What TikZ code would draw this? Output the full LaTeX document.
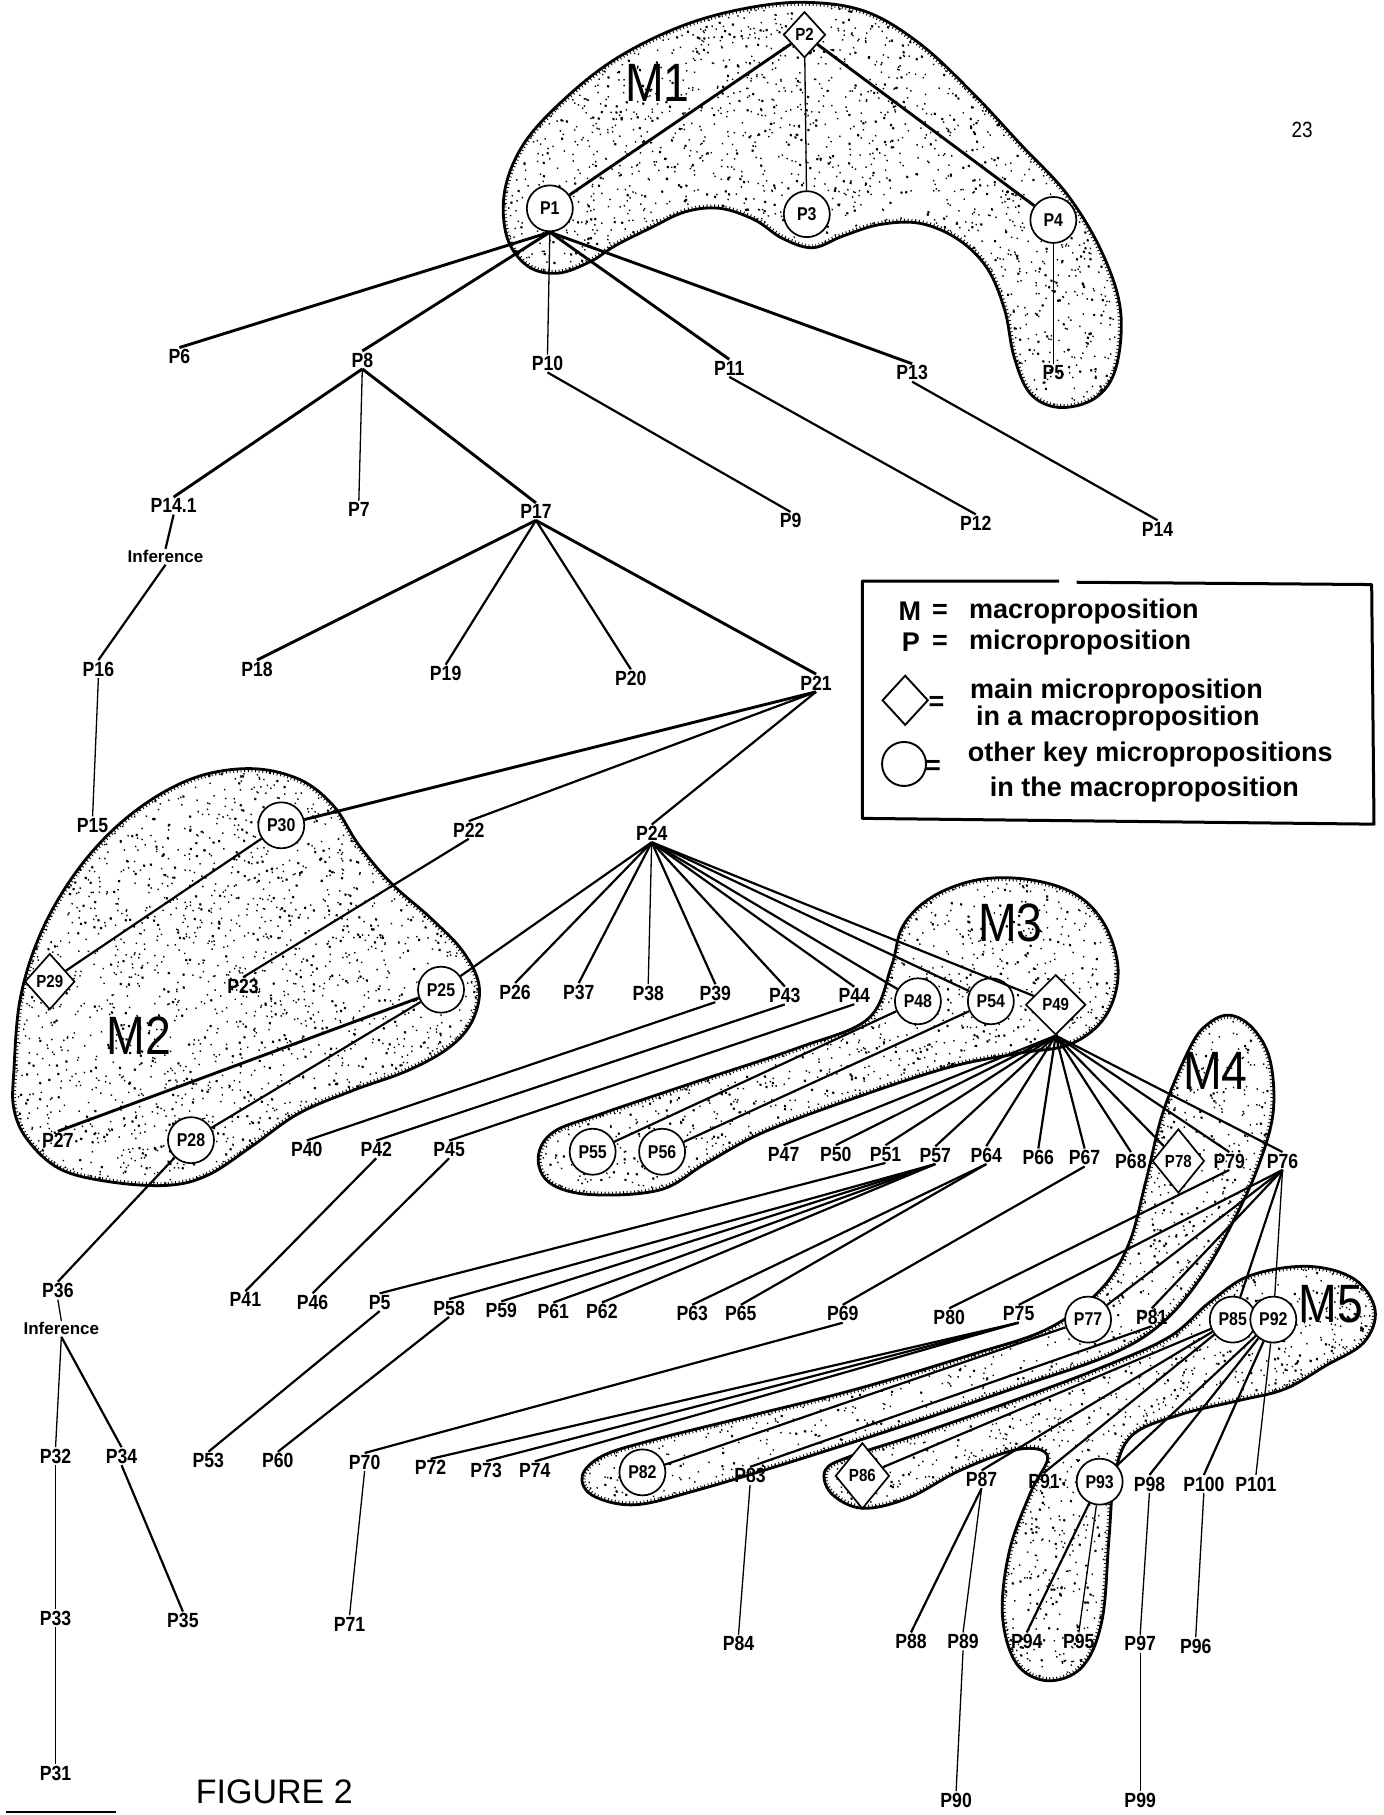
\documentclass[tikz,border=0pt]{standalone}
\usepackage{fontspec}
\setmainfont{Liberation Sans}
\newfontfamily\condfont{Liberation Sans}[FakeStretch=0.86]
\usetikzlibrary{shapes.geometric}
\tikzset{
  lbl/.style={font=\condfont\bfseries\fontsize{20.5}{20.5}\selectfont, inner sep=1.5pt},
  keyc/.style={circle, draw, line width=1.7pt, fill=white, minimum size=46pt, inner sep=0pt, font=\condfont\bfseries\fontsize{18.5}{18.5}\selectfont},
  keyd/.style={diamond, draw, line width=1.7pt, fill=white, inner sep=0pt, font=\condfont\bfseries\fontsize{17.5}{17.5}\selectfont},
  con/.style={line width=2.2pt},
  thk/.style={line width=2.9pt},
  thn/.style={line width=1.3pt},
  blobline/.style={line width=2.8pt, line join=round},
  mlab/.style={font=\condfont\fontsize{54}{54}\selectfont, inner sep=0pt},
  lgd/.style={font=\bfseries\fontsize{27}{27}\selectfont, inner sep=0pt, anchor=west},
  lgs/.style={font=\bfseries\fontsize{27}{27}\selectfont, inner sep=0pt},
}
\newcommand\stipple[6]{%
  \begin{scope}
    \clip #1;
    \draw[line width=1.5pt, line cap=round] foreach \k in {1,...,#6} { ({#2+rnd*#4},{#3+rnd*#5}) -- ++(0.3,0.4) };
    \pgfmathtruncatemacro\nnn{#6/3}
    \draw[line width=2.4pt, line cap=round] foreach \k in {1,...,\nnn} { ({#2+rnd*#4},{#3+rnd*#5}) -- ++(0.3,0.5) };
    \draw[line width=7pt, dash pattern=on 0.9pt off 2.8pt] #1;
  \end{scope}
  \draw[blobline] #1;
}
\def\pathMone{plot[smooth cycle, tension=0.6] coordinates {(438,205) (436,165) (452,125) (485,88) (530,52) (585,24) (640,8) (695,2) (748,10) (795,38) (840,80) (882,125) (922,168) (952,218) (968,268) (964,318) (946,344) (915,352) (890,340) (876,308) (868,268) (853,232) (828,207) (795,193) (760,194) (728,204) (702,214) (676,206) (652,190) (622,180) (592,183) (562,197) (532,212) (510,226) (482,236) (456,230)}}
\def\pathMtwo{plot[smooth cycle, tension=0.6] coordinates {(12,925) (18,860) (38,800) (72,745) (115,702) (165,673) (215,664) (258,673) (288,696) (310,730) (338,763) (372,793) (400,822) (414,852) (408,882) (388,905) (352,925) (305,942) (258,962) (218,990) (180,1015) (145,1024) (95,1021) (52,1010) (24,985) (12,958)}}
\def\pathMthree{plot[smooth cycle, tension=0.6] coordinates {(770,835) (780,800) (805,775) (845,760) (890,760) (930,773) (955,800) (966,840) (955,878) (925,902) (880,910) (820,922) (740,948) (660,978) (610,1005) (570,1028) (510,1032) (475,1022) (465,1000) (478,978) (520,962) (600,935) (690,905) (750,880)}}
\def\pathMfour{plot[smooth cycle, tension=0.6] coordinates {(1028,905) (1043,885) (1062,877) (1082,888) (1097,915) (1100,960) (1088,1005) (1068,1050) (1040,1100) (1005,1142) (960,1170) (880,1198) (780,1232) (680,1264) (600,1288) (548,1300) (512,1292) (503,1275) (520,1258) (560,1245) (640,1225) (740,1200) (840,1170) (905,1148) (950,1115) (975,1075) (990,1020) (1005,960)}}
\def\pathMfive{plot[smooth cycle, tension=0.6] coordinates {(1045,1125) (1080,1102) (1130,1094) (1170,1105) (1188,1132) (1178,1160) (1145,1180) (1110,1200) (1070,1210) (1020,1222) (978,1240) (963,1275) (958,1330) (952,1400) (935,1440) (905,1452) (878,1437) (866,1395) (872,1340) (890,1290) (905,1258) (880,1252) (830,1270) (785,1294) (745,1303) (718,1290) (713,1270) (735,1258) (790,1240) (870,1212) (950,1182) (1010,1155)}}
\begin{document}
\begin{tikzpicture}[x=1.1573pt, y=-1.1573pt]
\useasboundingbox (0,0) rectangle (1195,1568);
\fill[white] (0,0) rectangle (1195,1568);
\pgfmathsetseed{2718}
% macroproposition regions
\stipple{\pathMone}{430}{0}{540}{355}{2400}
\stipple{\pathMtwo}{5}{660}{415}{365}{2000}
\stipple{\pathMthree}{460}{755}{510}{280}{1800}
\stipple{\pathMfour}{500}{875}{600}{430}{2600}
\stipple{\pathMfive}{710}{1090}{480}{365}{2200}

% M labels
\node[mlab] (m1) at (568,72) {M1};
\node[mlab] (m2) at (120,895) {M2};
\node[mlab] (m3) at (873,797) {M3};
\node[mlab] (m4) at (1050,925) {M4};
\node[mlab] (m5) at (1150,1127) {M5};

% key nodes
\node[keyd, minimum width=42pt, minimum height=46pt] (p2) at (695,30) {P2};
\node[keyc] (p1) at (475,180) {P1};
\node[keyc] (p3) at (697,185) {P3};
\node[keyc] (p4) at (910,190) {P4};
\node[lbl] (p5a) at (910,322) {P5};
\node[keyc] (p30) at (243,713) {P30};
\node[keyd, minimum width=50pt, minimum height=56pt] (p29) at (43,848) {P29};
\node[keyc] (p25) at (381,855) {P25};
\node[keyc] (p28) at (165,985) {P28};
\node[keyc] (p48) at (793,865) {P48};
\node[keyc] (p54) at (856,865) {P54};
\node[keyd, minimum width=60pt, minimum height=60pt] (p49) at (912,868) {P49};
\node[keyc] (p55) at (512,995) {P55};
\node[keyc] (p56) at (572,995) {P56};
\node[keyd, minimum width=52pt, minimum height=64pt] (p78) at (1018,1003) {P78};
\node[keyc] (p77) at (940,1140) {P77};
\node[keyc] (p85) at (1065,1140) {P85};
\node[keyc] (p92) at (1100,1140) {P92};
\node[keyc] (p82) at (555,1272) {P82};
\node[keyd, minimum width=54pt, minimum height=66pt] (p86) at (745,1275) {P86};
\node[keyc] (p93) at (950,1280) {P93};

% plain labels
\node[lbl] (p6) at (155,308) {P6};
\node[lbl] (p8) at (313,311) {P8};
\node[lbl] (p10) at (473,314) {P10};
\node[lbl] (p11) at (630,318) {P11};
\node[lbl] (p13) at (788,322) {P13};
\node[lbl] (p141) at (150,437) {P14.1};
\node[lbl] (p7) at (310,440) {P7};
\node[lbl] (p17) at (463,442) {P17};
\node[lbl] (p9) at (683,450) {P9};
\node[lbl] (p12) at (843,452) {P12};
\node[lbl] (p14) at (1000,457) {P14};
\node[lbl, font=\bfseries\fontsize{17}{17}\selectfont] (inf1) at (143,481) {Inference};
\node[lbl] (p16) at (85,578) {P16};
\node[lbl] (p18) at (222,578) {P18};
\node[lbl] (p19) at (385,582) {P19};
\node[lbl] (p20) at (545,586) {P20};
\node[lbl] (p21) at (705,590) {P21};
\node[lbl] (p15) at (80,713) {P15};
\node[lbl] (p22) at (405,717) {P22};
\node[lbl] (p24) at (563,720) {P24};
\node[lbl] (p23) at (210,852) {P23};
\node[lbl] (p26) at (445,857) {P26};
\node[lbl] (p37) at (500,857) {P37};
\node[lbl] (p38) at (560,858) {P38};
\node[lbl] (p39) at (618,858) {P39};
\node[lbl] (p43) at (678,860) {P43};
\node[lbl] (p44) at (738,860) {P44};
\node[lbl] (p27) at (50,985) {P27};
\node[lbl] (p40) at (265,993) {P40};
\node[lbl] (p42) at (325,993) {P42};
\node[lbl] (p45) at (388,993) {P45};
\node[lbl] (p47) at (677,997) {P47};
\node[lbl] (p50) at (722,997) {P50};
\node[lbl] (p51) at (765,997) {P51};
\node[lbl] (p57) at (808,998) {P57};
\node[lbl] (p64) at (852,998) {P64};
\node[lbl] (p66) at (897,1000) {P66};
\node[lbl] (p67) at (937,1000) {P67};
\node[lbl] (p68) at (977,1003) {P68};
\node[lbl] (p79) at (1062,1003) {P79};
\node[lbl] (p76) at (1108,1003) {P76};
\node[lbl] (p36) at (50,1115) {P36};
\node[lbl, font=\bfseries\fontsize{17}{17}\selectfont] (inf2) at (53,1148) {Inference};
\node[lbl] (p41) at (212,1123) {P41};
\node[lbl] (p46) at (270,1125) {P46};
\node[lbl] (p5b) at (328,1125) {P5};
\node[lbl] (p58) at (388,1130) {P58};
\node[lbl] (p59) at (433,1132) {P59};
\node[lbl] (p61) at (478,1133) {P61};
\node[lbl] (p62) at (520,1133) {P62};
\node[lbl] (p63) at (598,1135) {P63};
\node[lbl] (p65) at (640,1135) {P65};
\node[lbl] (p69) at (728,1135) {P69};
\node[lbl] (p80) at (820,1138) {P80};
\node[lbl] (p75) at (880,1135) {P75};
\node[lbl] (p81) at (995,1138) {P81};
\node[lbl] (p32) at (48,1258) {P32};
\node[lbl] (p34) at (105,1258) {P34};
\node[lbl] (p53) at (180,1262) {P53};
\node[lbl] (p60) at (240,1262) {P60};
\node[lbl] (p70) at (315,1263) {P70};
\node[lbl] (p72) at (372,1268) {P72};
\node[lbl] (p73) at (420,1270) {P73};
\node[lbl] (p74) at (462,1270) {P74};
\node[lbl] (p83) at (648,1275) {P83};
\node[lbl] (p87) at (848,1278) {P87};
\node[lbl] (p91) at (902,1280) {P91};
\node[lbl] (p98) at (993,1282) {P98};
\node[lbl] (p100) at (1040,1282) {P100};
\node[lbl] (p101) at (1085,1282) {P101};
\node[lbl] (p33) at (48,1398) {P33};
\node[lbl] (p35) at (158,1400) {P35};
\node[lbl] (p71) at (302,1403) {P71};
\node[lbl] (p84) at (638,1420) {P84};
\node[lbl] (p88) at (787,1418) {P88};
\node[lbl] (p89) at (832,1418) {P89};
\node[lbl] (p94) at (887,1418) {P94};
\node[lbl] (p95) at (932,1418) {P95};
\node[lbl] (p97) at (985,1420) {P97};
\node[lbl] (p96) at (1033,1422) {P96};
\node[lbl] (p31) at (48,1532) {P31};
\node[lbl] (p90) at (826,1555) {P90};
\node[lbl] (p99) at (985,1555) {P99};

% connectors: M1
\draw[thk] (p2) -- (p1);
\draw[thn] (p2) -- (p3);
\draw[thk] (p2) -- (p4);
\draw[thn] (p4) -- (p5a);
\draw[thk] (p1.south) -- (p6.north);
\draw[thk] (p1.south) -- (p8.north);
\draw[thn] (p1.south) -- (p10.north);
\draw[thk] (p1.south) -- (p11.north);
\draw[thk] (p1.south) -- (p13.north);
\draw[thk] (p8.south) -- (p141.north);
\draw[thn] (p8.south) -- (p7.north);
\draw[thk] (p8.south) -- (p17.north);
\draw[con] (p10.south) -- (p9.north);
\draw[con] (p11.south) -- (p12.north);
\draw[con] (p13.south) -- (p14.north);
\draw[con] (p141.south) -- (inf1.north);
\draw[con] (inf1.south) -- (p16.north);
\draw[thn] (p16.south) -- (p15.north);
\draw[thk] (p17.south) -- (p18.north);
\draw[con] (p17.south) -- (p19.north);
\draw[con] (p17.south) -- (p20.north);
\draw[thk] (p17.south) -- (p21.north);
\draw[thk] (p21.south) -- (p30);
\draw[con] (p21.south) -- (p22.north);
\draw[con] (p21.south) -- (p24.north);
% M2
\draw[con] (p30) -- (p29);
\draw[con] (p22.south) -- (p23.north);
\draw[con] (p24.south) -- (p25);
\draw[thk] (p25) -- (p27.north);
\draw[con] (p25) -- (p28);
\draw[con] (p28) -- (p36.north);
\draw[thn] (p36.south) -- (inf2.north);
\draw[thn] (inf2.south) -- (p32.north);
\draw[con] (inf2.south) -- (p34.north);
\draw[thn] (p32.south) -- (p33.north);
\draw[thn] (p33.south) -- (p31.north);
\draw[con] (p34.south) -- (p35.north);
% P24 fan
\draw[con] (p24.south) -- (p26.north);
\draw[con] (p24.south) -- (p37.north);
\draw[thn] (p24.south) -- (p38.north);
\draw[con] (p24.south) -- (p39.north);
\draw[con] (p24.south) -- (p43.north);
\draw[con] (p24.south) -- (p44.north);
\draw[con] (p24.south) -- (p48);
\draw[con] (p24.south) -- (p54);
\draw[con] (p24.south) -- (p49);
\draw[con] (p39.south) -- (p40.north);
\draw[con] (p43.south) -- (p42.north);
\draw[con] (p44.south) -- (p45.north);
\draw[con] (p42.south) -- (p41.north);
\draw[con] (p45.south) -- (p46.north);
% M3
\draw[con] (p48) -- (p55);
\draw[con] (p54) -- (p56);
\foreach \t in {p47,p50,p51,p57,p64,p66,p67,p68,p79,p76}
  \draw[con] (p49.south) -- (\t.north);
\draw[con] (p49.south) -- (p78);
\draw[con] (p51.south) -- (p5b.north);
\foreach \t in {p58,p59,p61,p62}
  \draw[con] (p57.south) -- (\t.north);
\draw[con] (p64.south) -- (p63.north);
\draw[con] (p64.south) -- (p65.north);
\draw[con] (p67.south) -- (p69.north);
\draw[con] (p5b.south) -- (p53.north);
\draw[con] (p58.south) -- (p60.north);
\draw[con] (p69.south) -- (p70.north);
\draw[thn] (p70.south) -- (p71.north);
% M4
\draw[con] (p79.south) -- (p80.north);
\draw[con] (p76.south) -- (p75.north);
\draw[con] (p76.south) -- (p77);
\draw[con] (p76.south) -- (p81.north);
\draw[con] (p76.south) -- (p85);
\draw[thn] (p76.south) -- (p92);
\foreach \t in {p72,p73,p74}
  \draw[con] (p75.south) -- (\t.north);
\draw[con] (p77) -- (p82);
\draw[con] (p81.south) -- (p83.north);
\draw[thn] (p83.south) -- (p84.north);
% M5
\draw[con] (p85) -- (p86);
\draw[con] (p85) -- (p87.north);
\draw[con] (p85) -- (p91.north);
\draw[con] (p92) -- (p93);
\draw[con] (p92) -- (p98.north);
\draw[con] (p92) -- (p100.north);
\draw[thn] (p92) -- (p101.north);
\draw[con] (p87.south) -- (p88.north);
\draw[thn] (p87.south) -- (p89.north);
\draw[thn] (p89.south) -- (p90.north);
\draw[con] (p93) -- (p94.north);
\draw[thn] (p93) -- (p95.north);
\draw[thn] (p98.south) -- (p97.north);
\draw[thn] (p97.south) -- (p99.north);
\draw[thn] (p100.south) -- (p96.north);

% legend
\draw[line width=3pt, line join=round] (915,502) -- (745,502) -- (745,707) -- (1187,712) -- (1185,505) -- (930,503);
\node[lgs] (lgM) at (786,528) {M};
\node[lgs] (lgMe) at (812,528) {=};
\node[lgd] (lgMt) at (837,528) {macroproposition};
\node[lgs] (lgP) at (787,555) {P};
\node[lgs] (lgPe) at (812,555) {=};
\node[lgd] (lgPt) at (837,555) {microproposition};
\node[diamond, draw, line width=1.9pt, minimum width=46pt, minimum height=50pt, inner sep=0pt] (lgD) at (782,605) {};
\node[lgs] (lgDe) at (809,608) {=};
\node[lgd] (lgDt1) at (838,597) {main microproposition};
\node[lgd] (lgDt2) at (843,621) {in a macroproposition};
\node[circle, draw, line width=1.9pt, minimum size=44pt, inner sep=0pt] (lgC) at (781,660) {};
\node[lgs] (lgCe) at (806,663) {=};
\node[lgd] (lgCt1) at (836,652) {other key micropropositions};
\node[lgd] (lgCt2) at (855,682) {in the macroproposition};

% page number, caption
\node[font=\condfont\fontsize{22}{22}\selectfont] (pg) at (1125,112) {23};
\node[font=\fontsize{34}{34}\selectfont, inner sep=0pt] (fig) at (237,1548) {FIGURE 2};
\draw[line width=2pt] (5,1565) -- (100,1565);
\end{tikzpicture}
\end{document}
